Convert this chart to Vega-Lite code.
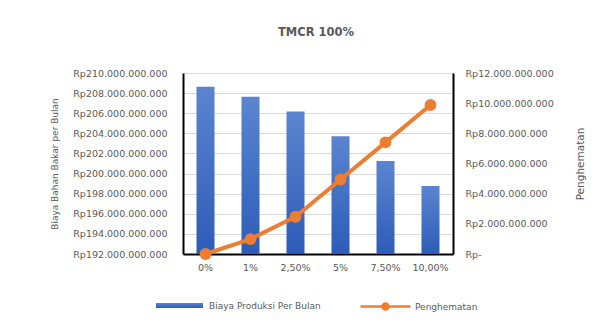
{
  "$schema": "https://vega.github.io/schema/vega-lite/v6.json",
  "autosize": "none",
  "width": 270,
  "height": 181,
  "padding": {"left": 183, "top": 73, "right": 163, "bottom": 75},
  "background": "white",
  "config": {
    "locale": {
      "number": {"decimal": ",", "thousands": ".", "grouping": [3], "currency": ["Rp", ""]}
    },
    "view": {"stroke": null},
    "font": "DejaVu Sans",
    "axis": {
      "labelColor": "#595959",
      "titleColor": "#595959",
      "labelFont": "DejaVu Sans",
      "titleFont": "DejaVu Sans",
      "titleFontWeight": "normal",
      "ticks": false,
      "domainColor": "#000000",
      "domainWidth": 2,
      "labelFontSize": 9.5
    },
    "legend": {
      "labelColor": "#595959",
      "labelFont": "DejaVu Sans",
      "labelFontSize": 9,
      "padding": 0
    }
  },
  "title": {
    "text": "TMCR 100%",
    "font": "DejaVu Sans",
    "fontSize": 11.5,
    "fontWeight": "bold",
    "color": "#595959",
    "anchor": "middle",
    "dx": -2,
    "offset": 30
  },
  "data": {
    "values": [
      {"persen": "0%", "biaya": 208640000000, "penghematan": 0},
      {"persen": "1%", "biaya": 207650000000, "penghematan": 990000000},
      {"persen": "2,50%", "biaya": 206170000000, "penghematan": 2470000000},
      {"persen": "5%", "biaya": 203700000000, "penghematan": 4940000000},
      {"persen": "7,50%", "biaya": 201240000000, "penghematan": 7400000000},
      {"persen": "10,00%", "biaya": 198760000000, "penghematan": 9880000000}
    ]
  },
  "encoding": {
    "x": {
      "field": "persen",
      "type": "nominal",
      "sort": null,
      "scale": {"paddingInner": 0.6, "paddingOuter": 0.3},
      "axis": {"title": null, "labelAngle": 0, "labelPadding": 8, "labelFontSize": 9.5}
    }
  },
  "layer": [
    {
      "mark": {
        "type": "bar",
        "fill": {
          "gradient": "linear",
          "x1": 0, "y1": 0, "x2": 0, "y2": 1,
          "stops": [
            {"offset": 0, "color": "#5b85d0"},
            {"offset": 1, "color": "#2d5cb8"}
          ]
        }
      },
      "encoding": {
        "y": {
          "field": "biaya",
          "type": "quantitative",
          "scale": {"domain": [192000000000, 210000000000], "zero": false, "nice": false},
          "axis": {
            "title": "Biaya Bahan Bakar per Bulan",
            "titleFontSize": 9,
            "titlePadding": 13,
            "format": "$,.0f",
            "values": [192000000000, 194000000000, 196000000000, 198000000000, 200000000000, 202000000000, 204000000000, 206000000000, 208000000000, 210000000000],
            "labelPadding": 16,
            "grid": true,
            "gridColor": "#d9d9d9",
            "gridWidth": 1
          }
        },
        "y2": {"datum": 192000000000},
        "opacity": {
          "datum": "Biaya Produksi Per Bulan",
          "type": "nominal",
          "scale": {"range": [1]},
          "legend": {
            "title": null,
            "orient": "none",
            "legendX": -27,
            "legendY": 209,
            "symbolType": "M-1,-0.11H1V0.11H-1Z",
            "symbolSize": 2209,
            "symbolStrokeWidth": 0,
            "labelOffset": 6,
            "encode": {"symbols": {"update": {"fill": {"value": "#4472C4"}, "opacity": {"value": 1}}}}
          }
        }
      }
    },
    {
      "encoding": {
        "y": {
          "field": "penghematan",
          "type": "quantitative",
          "scale": {"domain": [0, 12000000000], "nice": false},
          "axis": {
            "orient": "right",
            "title": "Penghematan",
            "titleFontSize": 10.5,
            "titleAngle": -90,
            "titlePadding": 32,
            "format": "$,.0f",
            "labelExpr": "datum.value == 0 ? 'Rp-' : datum.label",
            "values": [0, 2000000000, 4000000000, 6000000000, 8000000000, 10000000000, 12000000000],
            "labelPadding": 12,
            "grid": false
          }
        }
      },
      "layer": [
        {
          "mark": {"type": "line", "strokeWidth": 4, "strokeCap": "round", "strokeJoin": "round"},
          "encoding": {
            "stroke": {
              "datum": "Penghematan",
              "scale": {"range": ["#ED7D31"]},
              "legend": {
                "title": null,
                "orient": "none",
                "legendX": 176,
                "legendY": 207,
                "symbolType": "M-1,0H1M0.12,0A0.12,0.12 0 1 1 -0.12,0A0.12,0.12 0 1 1 0.12,0",
                "symbolSize": 2500,
                "symbolStrokeWidth": 2.5,
                "labelOffset": 3,
                "encode": {"symbols": {"update": {"fill": {"value": "#ED7D31"}}}}
              }
            }
          }
        },
        {
          "mark": {"type": "point", "filled": true, "size": 140, "color": "#ED7D31", "opacity": 1}
        }
      ]
    }
  ],
  "resolve": {"scale": {"y": "independent"}}
}
